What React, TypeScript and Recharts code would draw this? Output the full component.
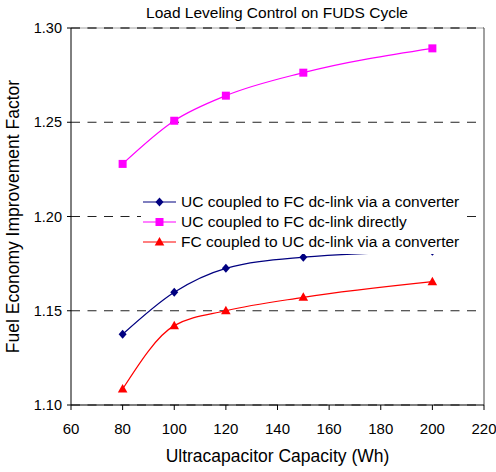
import React from "react";
import {
  LineChart,
  Line,
  XAxis,
  YAxis,
  CartesianGrid,
  Legend,
  ReferenceLine,
  Label,
} from "recharts";

// values
const capacityWh = [80, 100, 120, 150, 200];
const ucViaConverter = [1.1375, 1.1598, 1.1725, 1.1784, 1.1815];
const ucDirect = [1.2279, 1.2508, 1.2641, 1.2763, 1.2892];
const fcViaConverter = [1.1085, 1.1421, 1.15, 1.1571, 1.1654];

const xTicks = [60, 80, 100, 120, 140, 160, 180, 200, 220];
const yTicks = [1.1, 1.15, 1.2, 1.25, 1.3];

const seriesNames = [
  "UC coupled to FC dc-link via a converter",
  "UC coupled to FC dc-link directly",
  "FC coupled to UC dc-link via a converter",
];

const FONT = '"Liberation Sans", Arial, sans-serif';

const data = capacityWh.map((cap, i) => ({
  cap,
  ucConv: ucViaConverter[i],
  ucDirect: ucDirect[i],
  fcConv: fcViaConverter[i],
}));

const series = [
  { key: "ucConv", name: seriesNames[0], color: "#000080", shape: "diamond" },
  { key: "ucDirect", name: seriesNames[1], color: "#FF00FF", shape: "square" },
  { key: "fcConv", name: seriesNames[2], color: "#FF0000", shape: "triangle" },
];

function Marker({ shape, color, cx, cy }: { shape: string; color: string; cx: number; cy: number }) {
  if (cx == null || cy == null) return null;
  if (shape === "diamond") {
    return (
      <polygon
        points={`${cx},${cy - 4.5} ${cx + 4},${cy} ${cx},${cy + 4.5} ${cx - 4},${cy}`}
        fill={color}
      />
    );
  }
  if (shape === "square") {
    return <rect x={cx - 4} y={cy - 4} width={8} height={8} fill={color} />;
  }
  return (
    <polygon
      points={`${cx},${cy - 5} ${cx + 4.8},${cy + 3.5} ${cx - 4.8},${cy + 3.5}`}
      fill={color}
    />
  );
}

function LegendBox() {
  return (
    <div style={{ background: "#fff", padding: "0 6px 2px 2px", fontFamily: FONT, fontSize: 15.5, color: "#000" }}>
      {series.map((s) => (
        <div key={s.key} style={{ display: "flex", alignItems: "center", height: 20, whiteSpace: "nowrap" }}>
          <svg width={33} height={12}>
            <line x1={0} y1={6} x2={33} y2={6} stroke={s.color} strokeWidth={1.2} />
            <Marker shape={s.shape} color={s.color} cx={16.5} cy={6} />
          </svg>
          <span style={{ marginLeft: 5 }}>{s.name}</span>
        </div>
      ))}
    </div>
  );
}

export default function App() {
  return (
    <div style={{ position: "absolute", left: 0, top: 0, background: "#fff" }}>
      <LineChart
        width={496}
        height={472}
        data={data}
        margin={{ top: 28, right: 12, bottom: 7, left: 0 }}
        style={{ fontFamily: FONT }}
      >
        <text x={277} y={18} textAnchor="middle" fontSize={15.5} fill="#000" fontFamily={FONT}>
          Load Leveling Control on FUDS Cycle
        </text>
        <CartesianGrid vertical={false} stroke="#222" strokeDasharray="9 7.5" />
        <ReferenceLine x={220} stroke="#a0a0a0" strokeWidth={2} />
        <ReferenceLine y={1.3} stroke="#a0a0a0" strokeWidth={1} />
        <ReferenceLine y={1.3} stroke="#222" strokeDasharray="9 7.5" />
        <XAxis
          type="number"
          dataKey="cap"
          domain={[60, 220]}
          ticks={xTicks}
          interval={0}
          height={60}
          tickSize={5}
          tickMargin={13}
          stroke="#000"
          tick={{ fill: "#000", fontSize: 15, fontFamily: FONT }}
        >
          <Label
            value="Ultracapacitor Capacity (Wh)"
            position="insideBottom"
            offset={3}
            style={{ fontSize: 17.5, fill: "#000", fontFamily: FONT }}
          />
        </XAxis>
        <YAxis
          type="number"
          domain={[1.1, 1.3]}
          ticks={yTicks}
          interval={0}
          width={71}
          tickSize={4}
          tickMargin={5}
          stroke="#000"
          tickFormatter={(v: number) => v.toFixed(2)}
          tick={{ fill: "#000", fontSize: 14.5, fontFamily: FONT }}
        >
          <Label
            content={({ viewBox }: any) => {
              const cy = viewBox ? viewBox.y + viewBox.height / 2 : 216;
              return (
                <text
                  x={19}
                  y={cy}
                  transform={`rotate(-90 19 ${cy})`}
                  textAnchor="middle"
                  fontSize={17.5}
                  fill="#000"
                  fontFamily={FONT}
                >
                  Fuel Economy Improvement Factor
                </text>
              );
            }}
          />
        </YAxis>
        {series.map((s) => (
          <Line
            key={s.key}
            type="monotone"
            dataKey={s.key}
            name={s.name}
            stroke={s.color}
            strokeWidth={1.2}
            isAnimationActive={false}
            dot={(p: any) => <Marker key={`${s.key}-${p.index}`} shape={s.shape} color={s.color} cx={p.cx} cy={p.cy} />}
            activeDot={false}
          />
        ))}
        <Legend
          layout="vertical"
          align="center"
          verticalAlign="middle"
          content={() => <LegendBox />}
          wrapperStyle={{ position: "absolute", left: 141, top: 192, width: "auto", height: "auto" }}
        />
      </LineChart>
    </div>
  );
}
